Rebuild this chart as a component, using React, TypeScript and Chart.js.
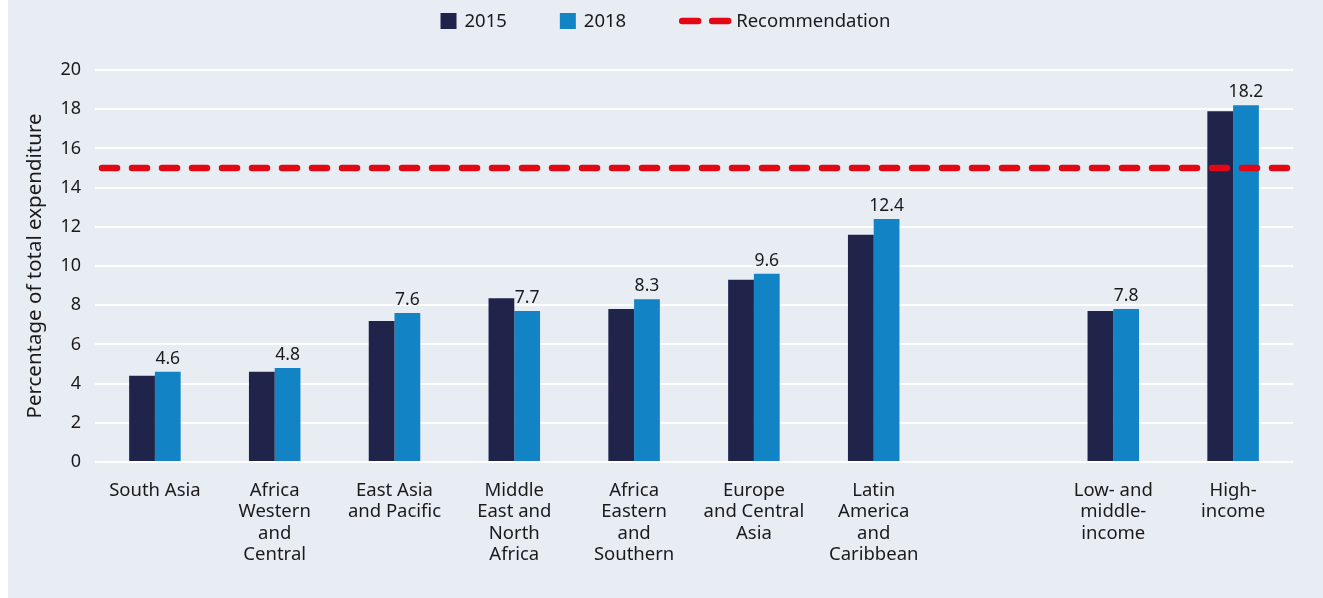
import React, { useEffect, useRef } from 'react';
import { Chart, registerables } from 'chart.js';

Chart.register(...registerables);

// ---------- data ----------
const categories: (string | string[])[] = [
  'South Asia',
  ['Africa', 'Western', 'and', 'Central'],
  ['East Asia', 'and Pacific'],
  ['Middle', 'East and', 'North', 'Africa'],
  ['Africa', 'Eastern', 'and', 'Southern'],
  ['Europe', 'and Central', 'Asia'],
  ['Latin', 'America', 'and', 'Caribbean'],
  '',
  ['Low- and', 'middle-', 'income'],
  ['High-', 'income'],
];
const values2015: (number | null)[] = [4.4, 4.6, 7.2, 8.35, 7.8, 9.3, 11.6, null, 7.7, 17.9];
const values2018: (number | null)[] = [4.6, 4.8, 7.6, 7.7, 8.3, 9.6, 12.4, null, 7.8, 18.2];
const recommendation = 15;
const seriesLabels = ['2015', '2018'];
const recommendationLabel = 'Recommendation';
const yAxisTitle = 'Percentage of total expenditure';
const yMin = 0;
const yMax = 20;
const yStep = 2;

// ---------- styles ----------
const FONT = '"Noto Sans", "Open Sans", sans-serif';
const TEXT = '#1a1a1a';
const BG = '#e8edf4';
const C2015 = '#20244a';
const C2018 = '#1283c4';
const RED = '#e30613';

const recommendationPlugin = {
  id: 'recommendationLine',
  afterDatasetsDraw(chart: any) {
    const { ctx, chartArea } = chart;
    const y = chart.scales.y.getPixelForValue(recommendation);
    ctx.save();
    ctx.strokeStyle = RED;
    ctx.lineWidth = 6.5;
    ctx.lineCap = 'round';
    ctx.setLineDash([15, 15]);
    ctx.beginPath();
    ctx.moveTo(chartArea.left + 7, y);
    ctx.lineTo(chartArea.right - 6, y);
    ctx.stroke();
    ctx.restore();
  },
};

const valueLabelPlugin = {
  id: 'valueLabels',
  afterDatasetsDraw(chart: any) {
    const { ctx } = chart;
    const meta = chart.getDatasetMeta(1);
    const data = chart.data.datasets[1].data;
    ctx.save();
    ctx.font = `17.5px ${FONT}`;
    ctx.fillStyle = TEXT;
    ctx.textAlign = 'center';
    ctx.textBaseline = 'alphabetic';
    meta.data.forEach((el: any, i: number) => {
      const v = data[i];
      if (v === null || v === undefined) return;
      ctx.fillText(Number(v).toFixed(1), el.x, el.y - 8);
    });
    ctx.restore();
  },
};

const legendPlugin = {
  id: 'customLegend',
  afterDraw(chart: any) {
    const { ctx } = chart;
    ctx.save();
    ctx.font = `18.5px ${FONT}`;
    ctx.textBaseline = 'middle';
    ctx.textAlign = 'left';
    const items = [
      { kind: 'box', color: C2015, label: chart.data.datasets[0].label },
      { kind: 'box', color: C2018, label: chart.data.datasets[1].label },
      { kind: 'line', color: RED, label: recommendationLabel },
    ];
    const boxW = 16;
    const lineW = 52;
    const itemGap = 53;
    const widths = items.map((it) => {
      const sym = it.kind === 'box' ? boxW + 8 : lineW + 5;
      return sym + ctx.measureText(it.label).width;
    });
    const total = widths.reduce((a, b) => a + b, 0) + itemGap * (items.length - 1);
    let x = chart.width / 2 - total / 2;
    const y = 21;
    items.forEach((it, i) => {
      if (it.kind === 'box') {
        ctx.fillStyle = it.color;
        ctx.fillRect(x, y - 8, boxW, 16);
        ctx.fillStyle = TEXT;
        ctx.fillText(it.label, x + boxW + 8, y + 1);
      } else {
        ctx.strokeStyle = it.color;
        ctx.lineWidth = 6.5;
        ctx.lineCap = 'round';
        ctx.setLineDash([16, 14]);
        ctx.beginPath();
        ctx.moveTo(x + 3, y);
        ctx.lineTo(x + lineW - 3, y);
        ctx.stroke();
        ctx.setLineDash([]);
        ctx.fillStyle = TEXT;
        ctx.fillText(it.label, x + lineW + 5, y + 1);
      }
      x += widths[i] + itemGap;
    });
    ctx.restore();
  },
};

export default function App() {
  const ref = useRef<HTMLCanvasElement | null>(null);

  useEffect(() => {
    if (!ref.current) return;
    const chart = new Chart(ref.current, {
      type: 'bar',
      data: {
        labels: categories,
        datasets: [
          {
            label: seriesLabels[0],
            data: values2015,
            backgroundColor: C2015,
            borderWidth: 0,
            categoryPercentage: 0.43,
            barPercentage: 1,
          },
          {
            label: seriesLabels[1],
            data: values2018,
            backgroundColor: C2018,
            borderWidth: 0,
            categoryPercentage: 0.43,
            barPercentage: 1,
          },
        ],
      },
      options: {
        responsive: false,
        animation: false,
        devicePixelRatio: 1,
        layout: { padding: { top: 70, right: 30, left: 0, bottom: 0 } },
        plugins: {
          legend: { display: false },
          tooltip: { enabled: false },
        },
        scales: {
          x: {
            grid: { display: false },
            border: { display: false },
            ticks: {
              color: TEXT,
              font: { family: FONT, size: 18.5, lineHeight: 1.16 },
              padding: 10,
              maxRotation: 0,
              minRotation: 0,
              autoSkip: false,
            },
            afterFit(scale: any) {
              scale.height = 136;
            },
          },
          y: {
            min: yMin,
            max: yMax,
            grid: { color: '#ffffff', lineWidth: 2, drawTicks: false },
            border: { display: false },
            ticks: {
              stepSize: yStep,
              padding: 14,
              color: TEXT,
              font: { family: FONT, size: 18 },
            },
            title: {
              display: true,
              text: yAxisTitle,
              color: TEXT,
              font: { family: FONT, size: 20.5 },
              padding: { top: 15, bottom: 0 },
            },
            afterFit(scale: any) {
              scale.width = 87;
            },
          },
        },
      },
      plugins: [recommendationPlugin, valueLabelPlugin, legendPlugin],
    });
    return () => chart.destroy();
  }, []);

  return (
    <div
      style={{
        position: 'fixed',
        left: 8,
        top: 0,
        right: 0,
        bottom: 0,
        background: BG,
        overflow: 'hidden',
      }}
    >
      <canvas
        ref={ref}
        width={1315}
        height={598}
        style={{ display: 'block', position: 'absolute', left: 0, top: 0 }}
      />
    </div>
  );
}
